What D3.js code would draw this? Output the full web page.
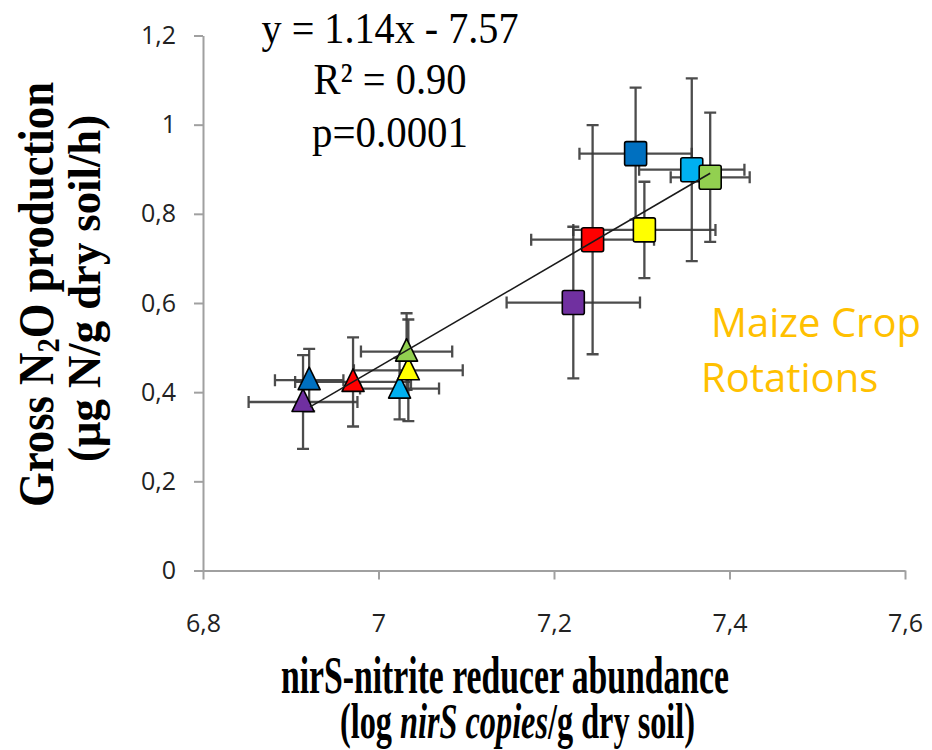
<!DOCTYPE html>
<html lang="en">
<head>
<meta charset="UTF-8">
<title>nirS vs gross N2O</title>
<style>
  body { margin: 0; background: #fff; }
  .axis path, .axis line { stroke: #a0a0a0; stroke-width: 2; }
  .axis text { font-family: "Open Sans", sans-serif; font-size: 25px; fill: #222; }
  .err { stroke: #383838; stroke-width: 2.3; fill: none; stroke-opacity: 0.9; }
  .mark { stroke: #000; stroke-width: 1.6; }
  .title { font-family: "Liberation Serif", "Times New Roman", serif; font-weight: bold; fill: #000; }
  .stats { font-family: "Liberation Serif", "Times New Roman", serif; font-size: 45px; fill: #000; }
  .note { font-family: "Open Sans", sans-serif; font-size: 40px; fill: #FFC000; }
</style>
</head>
<body>
<svg></svg>
<script src="https://d3js.org/d3.v7.min.js"></script>
<script>
// treatments (same colour = same crop rotation)
var colors = ["#7030A0", "#0070C0", "#FF0000", "#00B0F0", "#FFFF00", "#92D050"];

// triangles
var triX   = [6.914, 6.921, 6.971, 7.024, 7.034, 7.032];
var triY   = [0.378, 0.427, 0.423, 0.408, 0.449, 0.491];
var triXe  = [0.062, 0.039, 0.066, 0.045, 0.062, 0.052];
var triYe  = [0.105, 0.070, 0.100, 0.069, 0.114, 0.086];

// squares
var sqX    = [7.222, 7.293, 7.244, 7.357, 7.303, 7.378];
var sqY    = [0.601, 0.935, 0.742, 0.899, 0.764, 0.882];
var sqXe   = [0.076, 0.064, 0.070, 0.060, 0.081, 0.045];
var sqYe   = [0.170, 0.148, 0.257, 0.205, 0.108, 0.145];

// regression line ends
var lineX = [6.922, 7.378];
var lineY = [0.367, 0.891];

var xTicks = [6.8, 7, 7.2, 7.4, 7.6];
var yTicks = [0, 0.2, 0.4, 0.6, 0.8, 1, 1.2];

var width = 932, height = 750;
var svg = d3.select("svg").attr("width", width).attr("height", height);

var x = d3.scaleLinear().domain([6.8, 7.6]).range([203, 905]);
var y = d3.scaleLinear().domain([0, 1.2]).range([570.5, 35.5]);

var fmt = function(d) { return String(d).replace(".", ","); };

svg.append("g")
    .attr("class", "axis")
    .attr("transform", "translate(0," + y(0) + ")")
    .call(d3.axisBottom(x).tickValues(xTicks).tickFormat(fmt).tickSize(9).tickSizeOuter(0).tickPadding(35));

svg.append("g")
    .attr("class", "axis")
    .attr("transform", "translate(" + x(6.8) + ",0)")
    .call(d3.axisLeft(y).tickValues(yTicks).tickFormat(fmt).tickSize(9).tickSizeOuter(0).tickPadding(18));

function points(xs, ys, xe, ye) {
  return xs.map(function(v, i) {
    return { x: v, y: ys[i], xe: xe[i], ye: ye[i], c: colors[i] };
  });
}
var tris = points(triX, triY, triXe, triYe);
var sqs = points(sqX, sqY, sqXe, sqYe);
var all = tris.concat(sqs);

// error bars
var cap = 6;
var eb = svg.append("g");
all.forEach(function(d) {
  var cx = x(d.x), cy = y(d.y);
  var x0 = x(d.x - d.xe), x1 = x(d.x + d.xe);
  var y0 = y(d.y - d.ye), y1 = y(d.y + d.ye);
  var p = d3.path();
  p.moveTo(x0, cy); p.lineTo(x1, cy);
  p.moveTo(x0, cy - cap); p.lineTo(x0, cy + cap);
  p.moveTo(x1, cy - cap); p.lineTo(x1, cy + cap);
  p.moveTo(cx, y0); p.lineTo(cx, y1);
  p.moveTo(cx - cap, y0); p.lineTo(cx + cap, y0);
  p.moveTo(cx - cap, y1); p.lineTo(cx + cap, y1);
  eb.append("path").attr("class", "err").attr("d", p.toString());
});

// triangles
svg.append("g").selectAll("path")
  .data(tris)
  .enter()
  .append("path")
  .attr("class", "mark")
  .attr("fill", function(d) { return d.c; })
  .attr("stroke-linejoin", "round")
  .attr("d", function(d) {
    var cx = x(d.x), cy = y(d.y);
    return "M" + cx + "," + (cy - 13) + "L" + (cx + 11) + "," + (cy + 9.5) + "L" + (cx - 11) + "," + (cy + 9.5) + "Z";
  });

// squares
svg.append("g").selectAll("rect")
  .data(sqs)
  .enter()
  .append("rect")
  .attr("class", "mark")
  .attr("fill", function(d) { return d.c; })
  .attr("x", function(d) { return x(d.x) - 11; })
  .attr("y", function(d) { return y(d.y) - 12; })
  .attr("width", 22)
  .attr("height", 24)
  .attr("rx", 2);

// regression line
svg.append("path")
  .datum(d3.zip(lineX, lineY))
  .attr("fill", "none")
  .attr("stroke", "#1a1a1a")
  .attr("stroke-width", 1.6)
  .attr("d", d3.line().x(function(d) { return x(d[0]); }).y(function(d) { return y(d[1]); }));

// statistics text
var stats = [["y = 1.14x - 7.57", 43, 257], ["R\u00B2 = 0.90", 94, 153], ["p=0.0001", 147, 156]];
svg.append("g").selectAll("text")
  .data(stats)
  .enter()
  .append("text")
  .attr("class", "stats")
  .attr("x", 390)
  .attr("y", function(d) { return d[1]; })
  .attr("text-anchor", "middle")
  .attr("textLength", function(d) { return d[2]; })
  .attr("lengthAdjust", "spacingAndGlyphs")
  .text(function(d) { return d[0]; });

// annotation
svg.append("text").attr("class", "note").attr("x", 711).attr("y", 337).text("Maize Crop");
svg.append("text").attr("class", "note").attr("x", 701).attr("y", 392).text("Rotations");

// x axis title
svg.append("text").attr("class", "title")
  .attr("x", 281).attr("y", 693)
  .style("font-size", "53px")
  .attr("textLength", 448).attr("lengthAdjust", "spacingAndGlyphs")
  .text("nirS-nitrite reducer abundance");

var xt2 = svg.append("text").attr("class", "title")
  .attr("x", 340).attr("y", 738)
  .style("font-size", "51px")
  .attr("textLength", 355).attr("lengthAdjust", "spacingAndGlyphs");
xt2.append("tspan").text("(log ");
xt2.append("tspan").style("font-style", "italic").text("nirS copies");
xt2.append("tspan").text("/g dry soil)");

// y axis title
var yt1 = svg.append("text").attr("class", "title")
  .attr("transform", "translate(53,507) rotate(-90)")
  .style("font-size", "50px")
  .attr("textLength", 425).attr("lengthAdjust", "spacingAndGlyphs");
yt1.append("tspan").text("Gross N");
yt1.append("tspan").style("font-size", "32px").attr("dy", 6).text("2");
yt1.append("tspan").attr("dy", -6).text("O production");

svg.append("text").attr("class", "title")
  .attr("transform", "translate(100,462) rotate(-90)")
  .style("font-size", "46px")
  .attr("textLength", 347).attr("lengthAdjust", "spacingAndGlyphs")
  .text("(\u00B5g N/g dry soil/h)");
</script>
</body>
</html>
